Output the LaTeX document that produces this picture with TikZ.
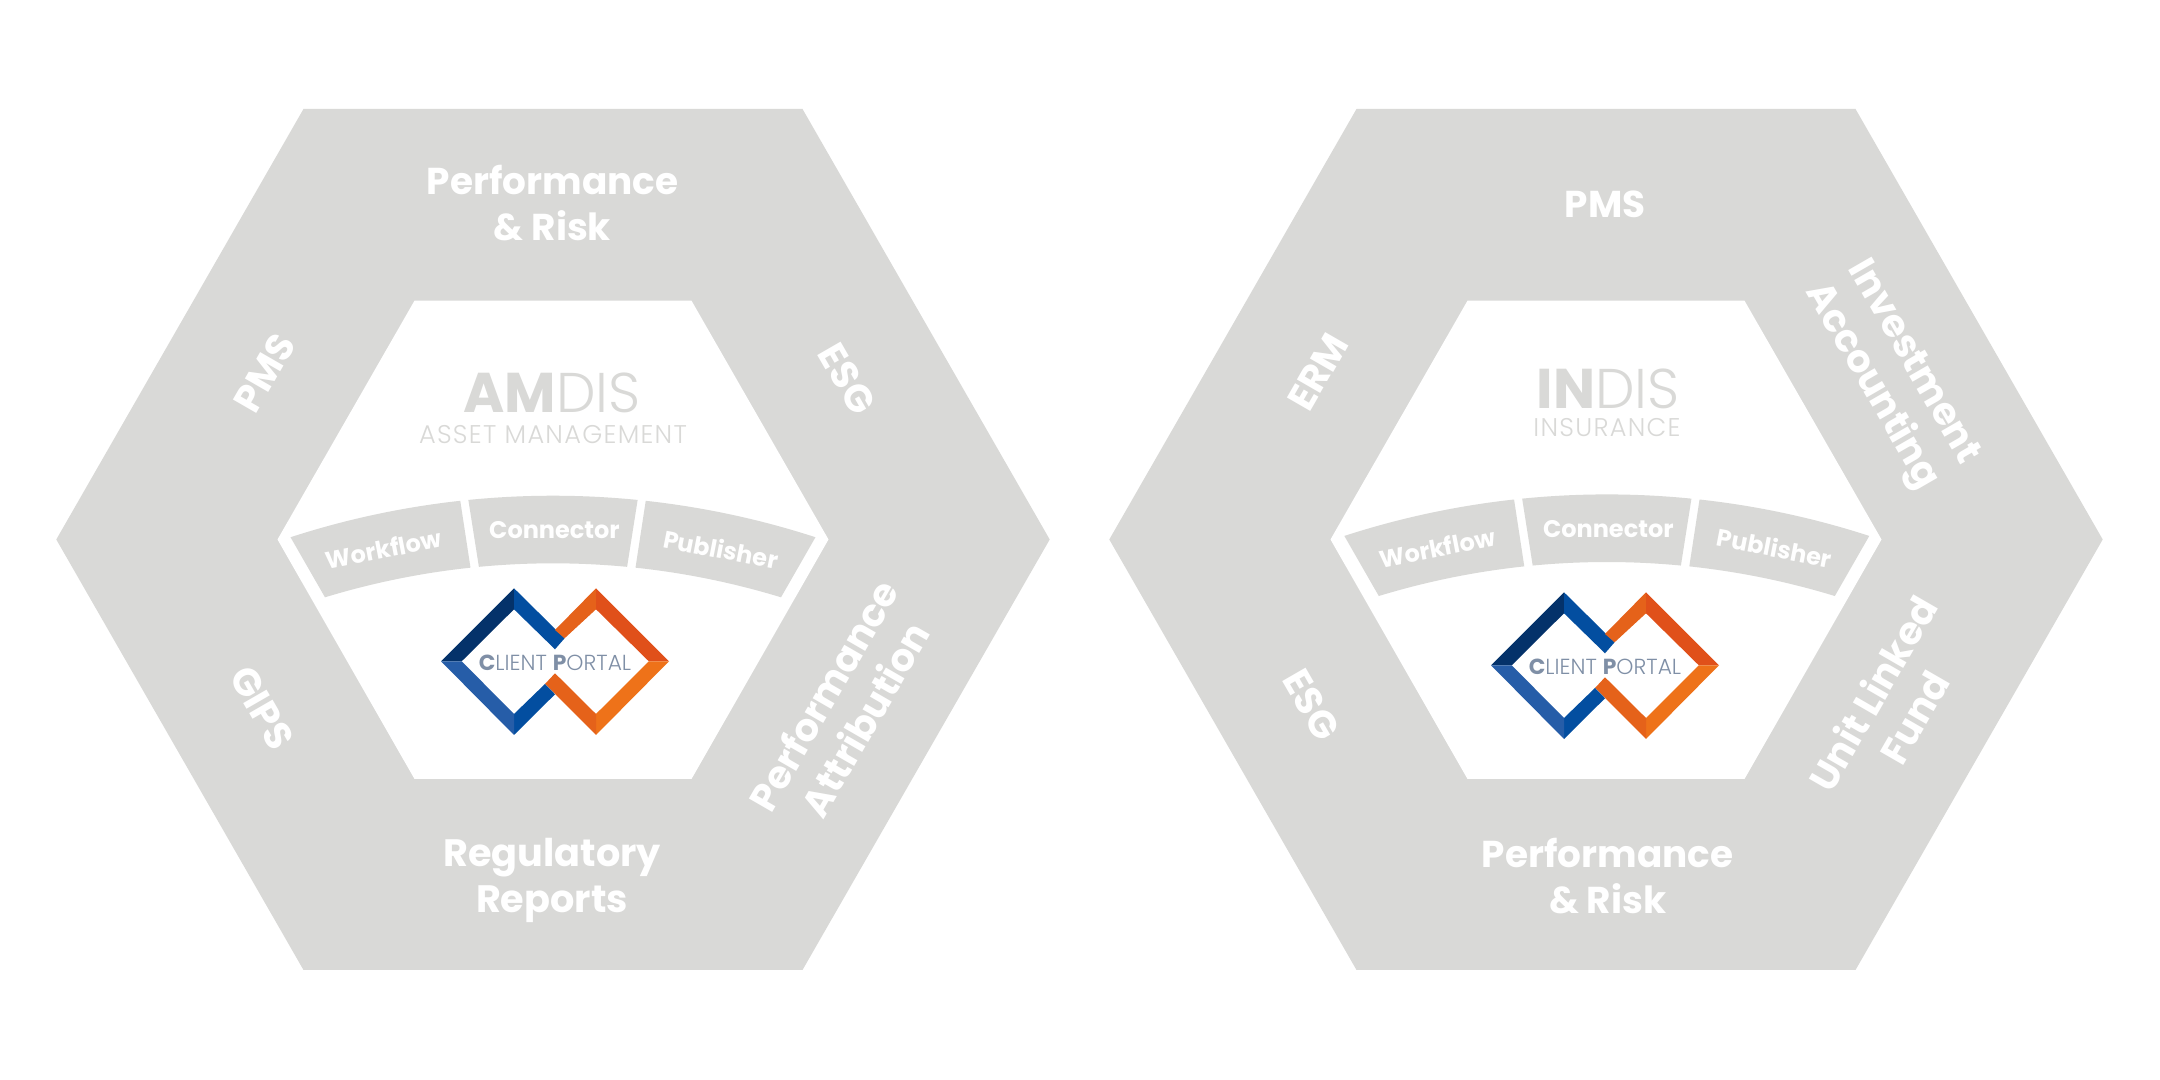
\documentclass[tikz,border=0pt]{standalone}
\usepackage{fontspec}
\setmainfont{Poppins}
\newfontfamily\semi{Poppins SemiBold}
\newfontfamily\lite{Poppins Light}
\newfontfamily\litewide[LetterSpace=5]{Poppins Light}
\newfontfamily\bld{Poppins Bold}
\definecolor{hexgrey}{HTML}{D9D9D7}
\definecolor{navy}{HTML}{04326A}
\definecolor{bluemid}{HTML}{034EA0}
\definecolor{bluelite}{HTML}{265DA8}
\definecolor{orgdark}{HTML}{E0501A}
\definecolor{orgmid}{HTML}{E5621A}
\definecolor{orglite}{HTML}{EE7219}
\definecolor{portaltxt}{HTML}{7F8FA6}
\tikzset{
  outerlab/.style={text=white,font=\bld\fontsize{18.7}{23}\selectfont,align=center,inner sep=0pt},
  reglab/.style={text=white,font=\bld\fontsize{19.1}{23}\selectfont,align=center,inner sep=0pt},
  rotlab/.style={text=white,font=\bld\fontsize{19.2}{24}\selectfont,align=center,inner sep=0pt},
  bandlab/.style={text=white,font=\bld\fontsize{12}{14}\selectfont,inner sep=0pt},
  brand/.style={text=hexgrey,font=\lite\fontsize{28}{30}\selectfont,inner sep=0pt},
  subbrand/.style={text=hexgrey,font=\litewide\fontsize{12.8}{14}\selectfont,inner sep=0pt},
  portal/.style={text=portaltxt,font=\lite\fontsize{10.9}{12}\selectfont,inner sep=0pt},
  bandseg/.style={fill=hexgrey}
}
\newcommand{\hexpair}[1]{%
  \fill[hexgrey] (#1-496.7,540.5) -- (#1-249.5,971) -- (#1+249.5,971) -- (#1+496.7,540.5) -- (#1+249.5,110) -- (#1-249.5,110) -- cycle;
  \fill[white] (#1-275.5,540.5) -- (#1-138.5,779.3) -- (#1+138.5,779.3) -- (#1+275.5,540.5) -- (#1+138.5,301) -- (#1-138.5,301) -- cycle;
}
\newcommand{\seg}[4]{%
  \fill[bandseg] (#1:849.3) arc[start angle=#1,end angle=#2,radius=424.65pt] -- (#3:781.7) arc[start angle=#3,end angle=#4,radius=390.85pt] -- cycle;
}
\newcommand{\band}[3]{%
  \begin{scope}[shift={(#2,#3)}]
    \seg{108}{96.27}{96.06}{106.96}
    \seg{95.72}{84.28}{84.56}{95.44}
    \seg{83.73}{72}{73.04}{83.94}
    \node[bandlab,rotate=11] (#1work) at (-169.5,796) {Workflow};
    \node[bandlab] (#1conn) at (1.5,815) {Connector};
    \node[bandlab,rotate=-11] (#1publ) at (168,796) {Publisher};
  \end{scope}
}
\newcommand{\logo}[3]{%
  \begin{scope}[shift={(#2,#3)}]
    \fill[navy] (-114,0) -- (-41,73) -- (-41,52) -- (-93.3,0) -- cycle;
    \fill[bluemid] (-41,73) -- (9.6,23) -- (0,12) -- (-41,52) -- cycle;
    \fill[orgmid] (41,73) -- (41,52) -- (9.6,23) -- (0,31.3) -- cycle;
    \fill[orgdark] (41,73) -- (114,0) -- (93.8,0) -- (41,52) -- cycle;
    \fill[orglite] (114,0) -- (41,-73.7) -- (41,-52.7) -- (93.8,0) -- cycle;
    \fill[orgmid] (41,-52.7) -- (0,-12) -- (-10,-22.7) -- (41,-73.7) -- cycle;
    \fill[bluemid] (-41,-73.7) -- (-41,-52.7) -- (-10,-22.7) -- (0,-33) -- cycle;
    \fill[bluelite] (-114,0) -- (-93.3,0) -- (-41,-52.7) -- (-41,-73.7) -- cycle;
    \node[portal] (#1portal) at (0,-1.3) {{\bld C}LIENT {\bld P}ORTAL};
  \end{scope}
}
\begin{document}
\begin{tikzpicture}[x=0.5pt,y=0.5pt]
\useasboundingbox (0,0) rectangle (2160,1080);
\fill[white] (0,0) rectangle (2160,1080);
% left panel
\hexpair{553}
\band{a}{553}{-265}
\logo{a}{555}{418.7}
\node[brand] (amdis) at (552,687) {{\bld AM}DIS};
\node[subbrand] (amsub) at (553,645) {ASSET MANAGEMENT};
\node[outerlab] (aperf) at (552.5,877) {Performance\\\& Risk};
\node[reglab] (areg) at (552,200) {Regulatory\\Reports};
\node[rotlab,rotate=60] (apms) at (264.5,707) {PMS};
\node[rotlab,rotate=-60] (aesg) at (847,701) {ESG};
\node[rotlab,rotate=-60] (agips) at (262,372) {GIPS};
\node[rotlab,rotate=60] (aattr) at (844,373) {Performance\\Attribution};
% right panel
\hexpair{1606}
\band{b}{1606.8}{-263.7}
\logo{b}{1605}{414.7}
\node[brand] (indis) at (1608,691.5) {{\bld IN}DIS};
\node[subbrand] (insub) at (1607,652.5) {INSURANCE};
\node[outerlab] (bpms) at (1605,876) {PMS};
\node[outerlab] (bperf) at (1607.7,204) {Performance\\\& Risk};
\node[rotlab,rotate=60] (berm) at (1318,708) {ERM};
\node[rotlab,rotate=-60] (besg) at (1311.5,375) {ESG};
\node[rotlab,rotate=-60] (binv) at (1891,705) {Investment\\Accounting};
\node[rotlab,rotate=60] (bunit) at (1893,375) {Unit Linked\\Fund};
\end{tikzpicture}
\end{document}
